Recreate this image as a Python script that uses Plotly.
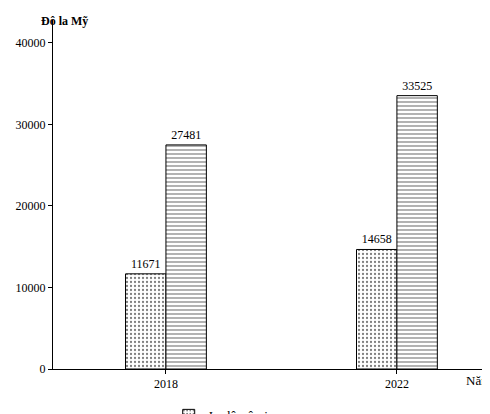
import plotly.graph_objects as go

years = ["2018", "2022"]
indo = [11671, 14658]
malay = [27481, 33525]
names = ["In-dô-nê-xi-a", "Ma-lai-xi-a"]

fig = go.Figure()
fig.add_bar(x=years, y=indo, name=names[0], text=[str(v) for v in indo], textposition="outside",
            marker=dict(color="white", line=dict(color="black", width=1),
                        pattern=dict(shape=".", fgcolor="black", bgcolor="white", size=4, solidity=0.25)))
fig.add_bar(x=years, y=malay, name=names[1], text=[str(v) for v in malay], textposition="outside",
            marker=dict(color="white", line=dict(color="black", width=1),
                        pattern=dict(shape="-", fgcolor="black", bgcolor="white", size=4, solidity=0.3)))
fig.update_traces(textfont=dict(family="Liberation Serif", size=12, color="black"), cliponaxis=False)
fig.update_layout(
    width=490, height=414, margin=dict(l=45, r=5, t=12, b=53, autoexpand=False),
    plot_bgcolor="white", paper_bgcolor="white",
    barmode="group", bargap=0.65, bargroupgap=0,
    font=dict(family="Liberation Serif", size=12, color="black"),
    xaxis=dict(range=[-0.489, 1.416], showline=True, linecolor="black", ticks="outside",
               ticklen=4, tickcolor="black", automargin=False),
    yaxis=dict(range=[0, 42800], tickvals=[0, 10000, 20000, 30000, 40000],
               ticktext=["0", "10000", "20000", "30000", "40000"], showline=True,
               linecolor="black", ticks="outside", ticklen=4, tickcolor="black", showgrid=False,
               zeroline=False, automargin=False),
    legend=dict(orientation="h", x=0.53, xanchor="center", y=-0.09, yanchor="top",
                font=dict(size=13), traceorder="normal", entrywidth=190,
                bordercolor="black", borderwidth=0),
    showlegend=True,
)
fig.add_annotation(x=0, y=1.0, xref="paper", yref="paper", text="<b>Đô la Mỹ</b>", showarrow=False,
                   xanchor="left", yanchor="top", xshift=-14, yshift=8, font=dict(size=12))
fig.add_annotation(x=1, y=0, xref="paper", yref="paper", text="Năm", showarrow=False,
                   xanchor="right", yanchor="top", yshift=-2, font=dict(size=13))
fig.write_html("out.html")
